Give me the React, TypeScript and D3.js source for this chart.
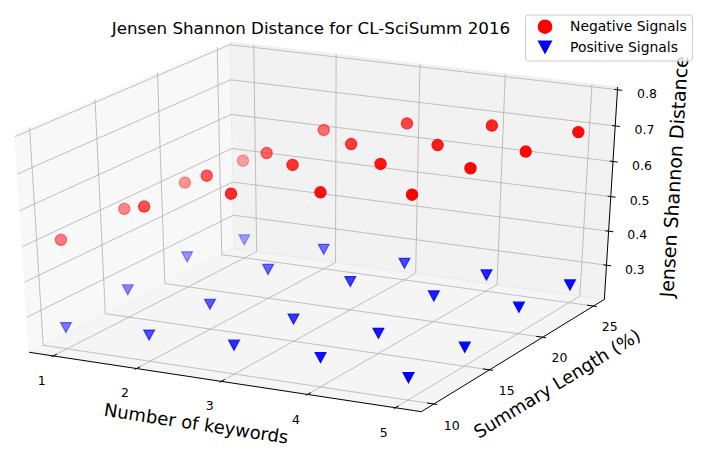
import * as d3 from 'd3';

const keywordCounts = [1, 2, 3, 4, 5];
const summaryLengths = [10, 15, 20, 25];
const distanceTicks = [0.3, 0.4, 0.5, 0.6, 0.7, 0.8];

// Jensen Shannon distance: one row per number of keywords, columns follow summaryLengths
const negativeSignals = [
  [0.510, 0.513, 0.506, 0.490],
  [0.634, 0.637, 0.621, 0.609],
  [0.700, 0.697, 0.676, 0.657],
  [0.735, 0.730, 0.703, 0.680],
  [0.760, 0.749, 0.715, 0.691],
];
const positiveSignals = [
  [0.260, 0.279, 0.288, 0.253],
  [0.274, 0.271, 0.284, 0.257],
  [0.281, 0.263, 0.282, 0.248],
  [0.282, 0.257, 0.274, 0.247],
  [0.262, 0.253, 0.276, 0.251],
];

const width = 704;
const height = 462;
const font = '"DejaVu Sans", sans-serif';

// camera, mplot3d style
const elev = 28;
const azim = -63;
const eyeDist = 10;

// data -> unit cube (the drawn box is a bit wider than the data)
const xUnit = d3.scaleLinear().domain([0.708, 5.292]).range([0, 1]);
const yUnit = d3.scaleLinear().domain([8.906, 26.094]).range([0, 1]);
const zUnit = d3.scaleLinear().domain([0.198, 0.8075]).range([0, 1]);
// projection plane -> pixels
const toPx = d3.scaleLinear().domain([-0.1, 0.1]).range([322.2 - 437.5, 322.2 + 437.5]);
const toPy = d3.scaleLinear().domain([-0.1, 0.1]).range([220.2 + 243.8, 220.2 - 243.8]);

const el = (elev * Math.PI) / 180;
const az = (azim * Math.PI) / 180;
const U = [-Math.sin(az), Math.cos(az), 0];
const V = [-Math.sin(el) * Math.cos(az), -Math.sin(el) * Math.sin(az), Math.cos(el)];
const W = [Math.cos(el) * Math.cos(az), Math.cos(el) * Math.sin(az), Math.sin(el)];

const project = (nx: number, ny: number, nz: number) => {
  const q = [nx - 0.5, ny - 0.5, nz - 0.5];
  const dot = (a: number[]) => a[0] * q[0] + a[1] * q[1] + a[2] * q[2];
  const den = eyeDist - dot(W);
  return { x: toPx(dot(U) / den), y: toPy(dot(V) / den), depth: dot(W) };
};

const seg = (a: number[], b: number[]) => {
  const p = project(a[0], a[1], a[2]);
  const r = project(b[0], b[1], b[2]);
  return `M${p.x},${p.y}L${r.x},${r.y}`;
};
const poly = (pts: number[][]) =>
  'M' + pts.map(p => { const r = project(p[0], p[1], p[2]); return `${r.x},${r.y}`; }).join('L') + 'Z';

type Pt = { x: number; y: number; depth: number; alpha: number };

const buildPoints = (values: number[][]): Pt[] => {
  const raw = keywordCounts.flatMap((k, i) =>
    summaryLengths.map((s, j) => {
      const nx = xUnit(k);
      const ny = yUnit(s);
      const p = project(nx, ny, zUnit(values[i][j]));
      return { ...p, key: nx - 0.2 * ny };
    })
  );
  const shade = d3.scaleLinear().domain(d3.extent(raw, d => d.key) as [number, number]).range([0, 1]);
  return raw
    .map(d => ({ x: d.x, y: d.y, depth: d.depth, alpha: 1 - 0.65 * Math.pow(1 - shade(d.key), 1.5) }))
    .sort((a, b) => a.depth - b.depth);
};

const trianglePath = (cx: number, cy: number, hw: number, hh: number) =>
  `M${cx - hw},${cy - hh}L${cx + hw},${cy - hh}L${cx},${cy + hh}Z`;

const gridColor = '#b0b0b0';
const tickIn = 0.0167;
const tickOut = 0.0083;

export default function App() {
  const redPts = buildPoints(negativeSignals);
  const bluePts = buildPoints(positiveSignals);

  const xs = keywordCounts.map(xUnit);
  const ys = summaryLengths.map(yUnit);
  const zs = distanceTicks.map(zUnit);

  // axis edges
  const A = project(0, 0, 0);
  const B = project(1, 0, 0);
  const C = project(1, 1, 0);
  const Ct = project(1, 1, 1);
  const angle = (p: { x: number; y: number }, r: { x: number; y: number }) =>
    (Math.atan2(r.y - p.y, r.x - p.x) * 180) / Math.PI;
  const xMid = project(0.5, 0, 0);
  const yMid = project(1, 0.5, 0);
  const zMid = project(1, 1, 0.5);

  return (
    <svg width={width} height={height} style={{ position: 'absolute', left: 0, top: 0 }} fontFamily={font}>
      <rect width={width} height={height} fill="white" />

      {/* panes */}
      <path d={poly([[0, 0, 0], [0, 1, 0], [0, 1, 1], [0, 0, 1]])} fill="rgb(242,242,242)" fillOpacity={0.5} stroke="rgb(242,242,242)" strokeOpacity={0.5} />
      <path d={poly([[0, 1, 0], [1, 1, 0], [1, 1, 1], [0, 1, 1]])} fill="rgb(230,230,230)" fillOpacity={0.5} stroke="rgb(230,230,230)" strokeOpacity={0.5} />
      <path d={poly([[0, 0, 0], [1, 0, 0], [1, 1, 0], [0, 1, 0]])} fill="rgb(236,236,236)" fillOpacity={0.5} stroke="rgb(236,236,236)" strokeOpacity={0.5} />

      {/* grid */}
      <g stroke={gridColor} strokeWidth={0.8} fill="none">
        {xs.map((x, i) => <path key={`xf${i}`} d={seg([x, 0, 0], [x, 1, 0])} />)}
        {xs.map((x, i) => <path key={`xb${i}`} d={seg([x, 1, 0], [x, 1, 1])} />)}
        {ys.map((y, i) => <path key={`yf${i}`} d={seg([0, y, 0], [1, y, 0])} />)}
        {ys.map((y, i) => <path key={`yl${i}`} d={seg([0, y, 0], [0, y, 1])} />)}
        {zs.map((z, i) => <path key={`zl${i}`} d={seg([0, 0, z], [0, 1, z])} />)}
        {zs.map((z, i) => <path key={`zb${i}`} d={seg([0, 1, z], [1, 1, z])} />)}
      </g>

      {/* axis lines and ticks */}
      <g stroke="black" strokeWidth={1} fill="none">
        <path d={seg([0, 0, 0], [1, 0, 0])} />
        <path d={seg([1, 0, 0], [1, 1, 0])} />
        <path d={seg([1, 1, 0], [1, 1, 1])} />
        {xs.map((x, i) => <path key={`xt${i}`} d={seg([x, -tickOut, 0], [x, tickIn, 0])} />)}
        {ys.map((y, i) => <path key={`yt${i}`} d={seg([1 - tickIn, y, 0], [1 + tickOut, y, 0])} />)}
        {zs.map((z, i) => <path key={`zt${i}`} d={seg([1 - 0.008, 1, z], [1 + 0.012, 1, z])} />)}
      </g>

      {/* tick labels */}
      <g fontSize={12.5} fill="black" textAnchor="middle">
        {keywordCounts.map((k, i) => {
          const p = project(xs[i], -0.057, -0.085);
          return <text key={`xl${i}`} x={p.x} y={p.y} dy="0.36em">{k}</text>;
        })}
        {summaryLengths.map((s, i) => {
          const p = project(1.045, ys[i], -0.088);
          return <text key={`yl${i}`} x={p.x} y={p.y} dy="0.36em">{s}</text>;
        })}
        {distanceTicks.map((t, i) => {
          const p = project(1.073, 1, zs[i]);
          return <text key={`zl${i}`} x={p.x} y={p.y} dy="0.36em">{t.toFixed(1)}</text>;
        })}
      </g>

      {/* axis labels */}
      <g fill="black" textAnchor="middle">
        <text fontSize={18} transform={`translate(${xMid.x - 25},${xMid.y + 42}) rotate(${angle(A, B)})`} dy="0.36em">Number of keywords</text>
        <text fontSize={18} transform={`translate(${yMid.x + 40.5},${yMid.y + 30}) rotate(${angle(B, C)})`} dy="0.36em">Summary Length (%)</text>
        <text fontSize={19} transform={`translate(${zMid.x + 63},${zMid.y - 19}) rotate(${angle(C, Ct)})`} dy="0.36em">Jensen Shannon Distance</text>
      </g>

      {/* points */}
      <g>
        {redPts.map((p, i) => (
          <circle key={`r${i}`} cx={p.x} cy={p.y} r={5.6} fill="#ff0000" fillOpacity={p.alpha} stroke="#ff0000" strokeOpacity={p.alpha} strokeWidth={1.2} />
        ))}
        {bluePts.map((p, i) => (
          <path key={`b${i}`} d={trianglePath(p.x, p.y, 5.4, 5)} fill="#0000ff" fillOpacity={p.alpha} stroke="#0000ff" strokeOpacity={p.alpha} strokeWidth={1.2} />
        ))}
      </g>

      <text x={311} y={34} fontSize={16.7} textAnchor="middle" fill="black">Jensen Shannon Distance for CL-SciSumm 2016</text>

      {/* legend */}
      <g>
        <rect x={525.5} y={15} width={167} height={46} rx={3} fill="white" fillOpacity={0.8} stroke="#cccccc" />
        <circle cx={545} cy={26.7} r={7.3} fill="#ff0000" />
        <path d={trianglePath(545, 47.6, 7.5, 7)} fill="#0000ff" />
        <text x={570} y={30.8} fontSize={13.9} fill="black">Negative Signals</text>
        <text x={570} y={51.7} fontSize={13.9} fill="black">Positive Signals</text>
      </g>
    </svg>
  );
}
